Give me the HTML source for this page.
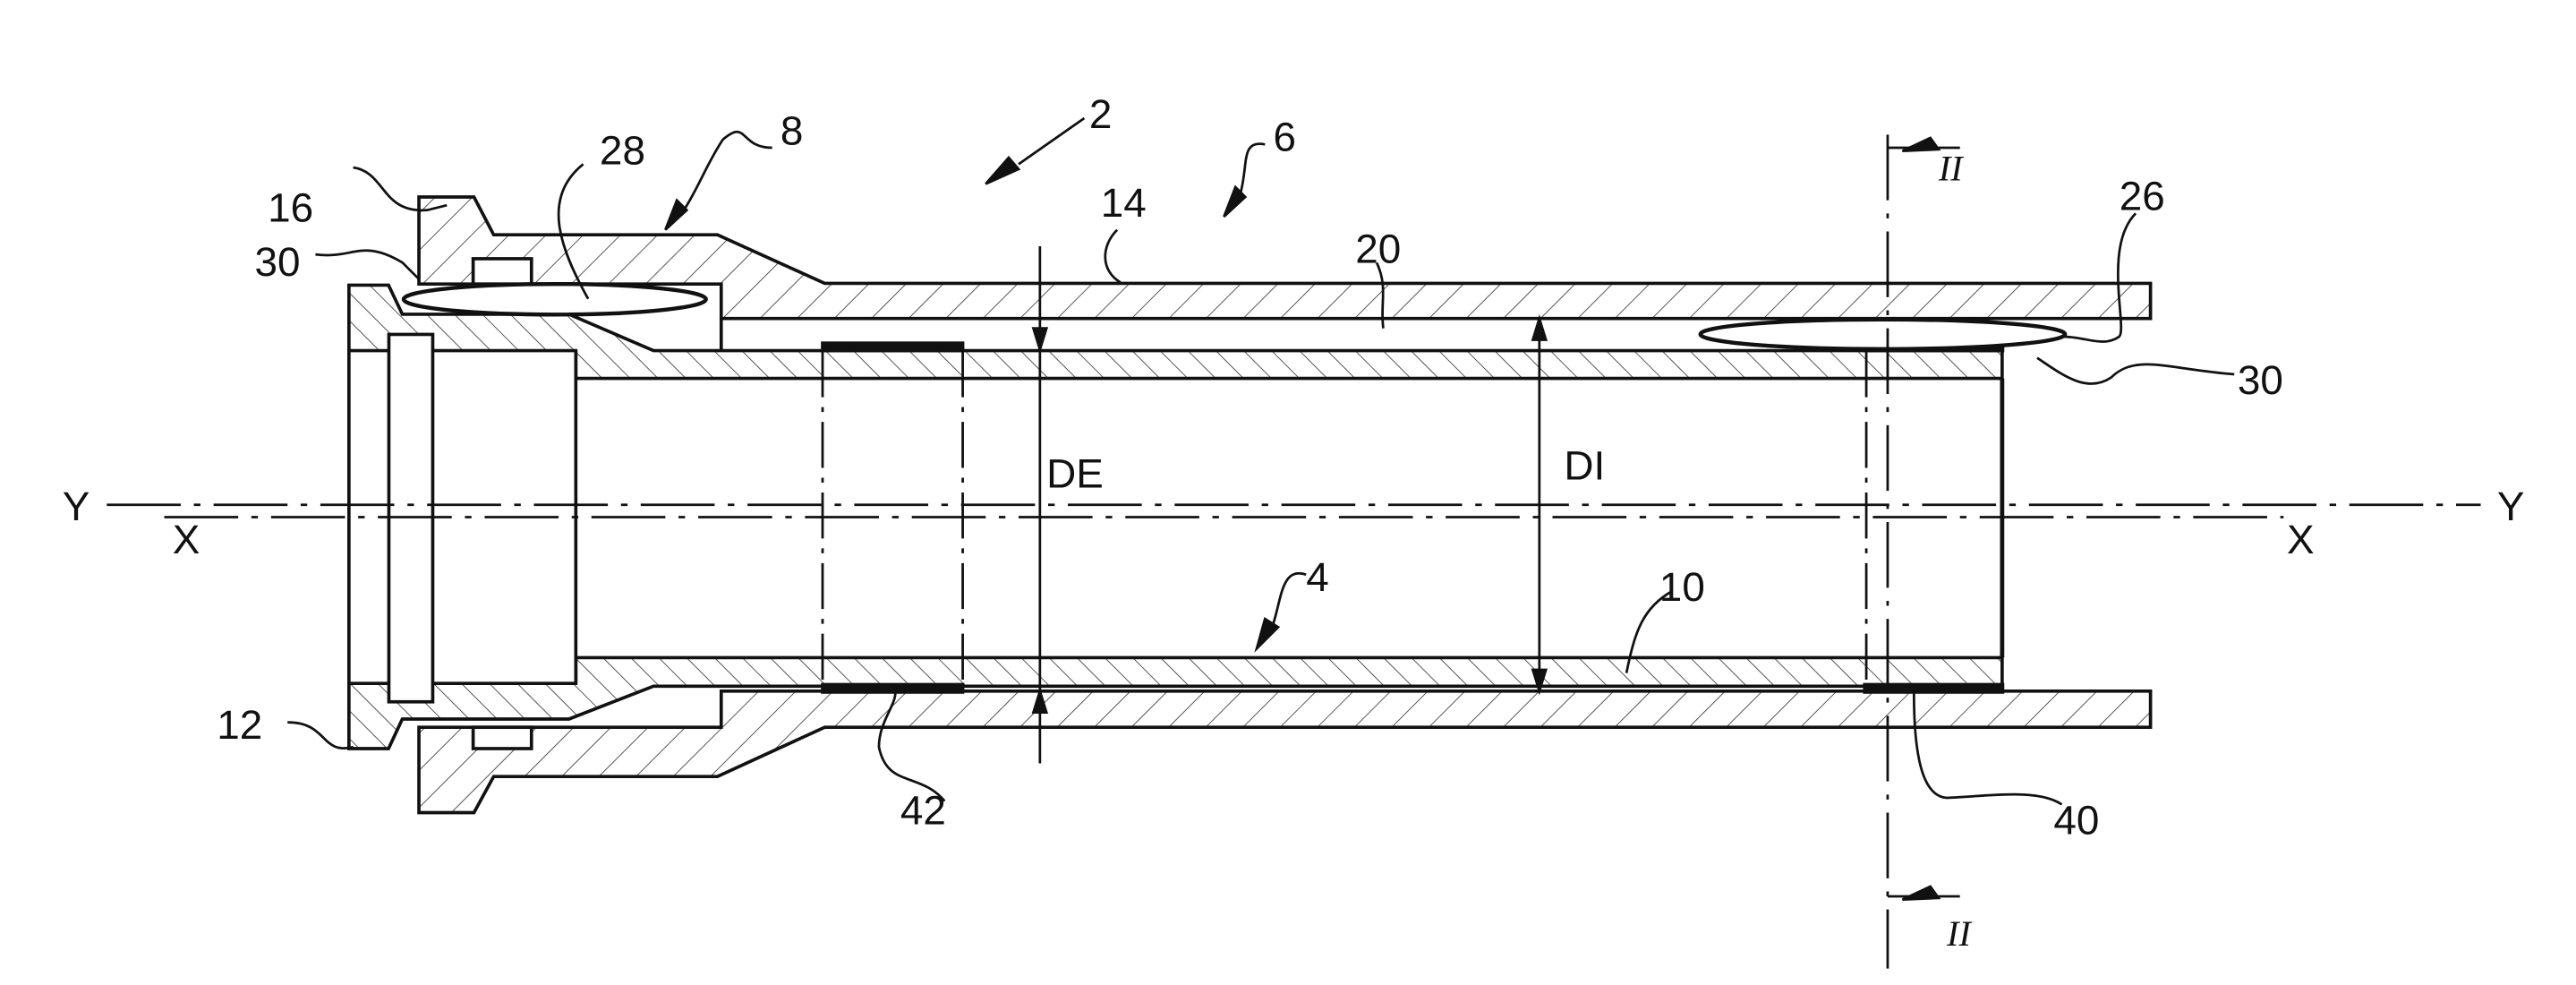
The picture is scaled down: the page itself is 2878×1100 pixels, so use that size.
<!DOCTYPE html>
<html><head><meta charset="utf-8"><style>
html,body{margin:0;padding:0;background:#fff;}
svg{display:block;}
text{font-family:"Liberation Sans",sans-serif;font-size:25px;fill:#111;}
</style></head><body>
<svg width="2878" height="1100" viewBox="0 0 1568 600" preserveAspectRatio="none" xmlns="http://www.w3.org/2000/svg">
<defs>
<pattern id="h1" patternUnits="userSpaceOnUse" width="16" height="16" patternTransform="rotate(45)">
<line x1="0" y1="0" x2="0" y2="16" stroke="#333" stroke-width="0.9"/></pattern>
<pattern id="h2" patternUnits="userSpaceOnUse" width="12" height="12" patternTransform="rotate(-45)">
<line x1="0" y1="0" x2="0" y2="12" stroke="#333" stroke-width="0.9"/></pattern>
</defs>
<g stroke="#111" stroke-width="2" fill="none" stroke-linejoin="miter">
<!-- housing -->
<polygon fill="url(#h1)" points="255,173 255,120 288.5,120 300.5,143 436.7,143 502,172.6 1309,172.6 1309,194 439,194 439,173"/>
<polygon fill="url(#h1)" points="255,443 255,495 288.5,495 300.5,473 436.7,473 502,443 1309,443 1309,421 439,421 439,443"/>
<rect x="288" y="157.6" width="35.5" height="15.4" fill="#fff"/>
<rect x="288" y="443" width="35.5" height="13" fill="#fff"/>
<line x1="439" y1="194" x2="439" y2="213.6"/>
<!-- socket + inner tube -->
<polygon fill="url(#h2)" points="212.4,173.7 236.5,173.7 244.9,191.4 346.3,191.4 397.8,213.6 1218.7,213.6 1218.7,230.5 350.5,230.5 350.5,213.6 212.4,213.6"/>
<polygon fill="url(#h2)" points="212.4,456 236.5,456 244.9,438 346.3,438 397.8,418 1218.7,418 1218.7,400.6 350.5,400.6 350.5,416.3 212.4,416.3"/>
<line x1="212.4" y1="213.6" x2="212.4" y2="416.3"/>
<line x1="350.5" y1="213.6" x2="350.5" y2="416.3"/>
<line x1="1218.7" y1="230.5" x2="1218.7" y2="400.6" stroke-width="2.6"/>
<rect x="236.7" y="203.7" width="26.7" height="223.8" fill="#fff"/>
<!-- bands -->
<rect x="500.7" y="209" width="85.3" height="4.6" fill="#111"/>
<rect x="500.7" y="417" width="85.3" height="4.6" fill="#111"/>
<rect x="1135" y="209" width="84" height="4.6" fill="#111"/>
<rect x="1135" y="417" width="84" height="4.6" fill="#111"/>
<!-- ellipses -->
<ellipse cx="337.7" cy="182.3" rx="92" ry="9.3" fill="#fff" stroke-width="2.4"/>
<ellipse cx="1146" cy="203.6" rx="111" ry="9" fill="#fff" stroke-width="2.4"/>
</g>
<g stroke="#111" stroke-width="1.5" fill="none">
<!-- dashed verticals -->
<line x1="500.7" y1="214" x2="500.7" y2="417" stroke-dasharray="28,6,3,6"/>
<line x1="586" y1="214" x2="586" y2="417" stroke-dasharray="28,6,3,6"/>
<line x1="1136" y1="214" x2="1136" y2="417" stroke-dasharray="28,6,3,6"/>
<!-- centerlines -->
<line x1="65" y1="307.5" x2="1510" y2="307.5" stroke-dasharray="45,8,4,8"/>
<line x1="100" y1="315" x2="1390" y2="315" stroke-dasharray="45,8,4,8"/>
<!-- section line -->
<line x1="1149" y1="82" x2="1149" y2="590" stroke-dasharray="40,8,3,8"/>
<line x1="1149" y1="90" x2="1193" y2="90"/>
<polygon points="1175,84 1180,91 1158,92" fill="#111"/>
<line x1="1149" y1="546" x2="1193" y2="546"/>
<polygon points="1175,540 1180,547 1158,548" fill="#111"/>
<!-- DE / DI -->
<line x1="633" y1="150" x2="633" y2="465"/>
<polygon points="629,200 637,200 633,213" fill="#111"/>
<polygon points="629,434 637,434 633,421" fill="#111"/>
<line x1="937" y1="194" x2="937" y2="421"/>
<polygon points="933,207 941,207 937,194" fill="#111"/>
<polygon points="933,408 941,408 937,421" fill="#111"/>
<!-- leaders -->
<path d="M215,102 C235,105 232,130 260,128 L272,125"/>
<path d="M192,155 C215,158 220,145 245,160 L255,170"/>
<path d="M355,100 C330,120 340,150 358,182"/>
<path d="M470,90 C450,90 455,72 440,85 C430,100 425,115 415,130"/>
<polygon points="405,140 412,122 418,128" fill="#111"/>
<path d="M660,72 L620,100"/>
<polygon points="600,112 614,96 620,103" fill="#111"/>
<path d="M770,88 C755,85 760,100 755,118"/>
<polygon points="745,132 752,114 758,120" fill="#111"/>
<path d="M680,140 C670,150 670,165 682,172"/>
<path d="M838,160 C845,175 840,185 842,200"/>
<path d="M1300,130 C1280,150 1295,200 1290,205 C1280,212 1270,205 1255,205"/>
<path d="M1360,228 C1320,225 1300,215 1285,230 C1270,240 1255,228 1240,218"/>
<path d="M175,440 C200,440 195,460 215,455"/>
<path d="M795,350 C780,345 780,365 775,380"/>
<polygon points="765,395 770,377 778,382" fill="#111"/>
<path d="M1018,360 C1000,370 995,385 990,410"/>
<path d="M575,488 C560,470 540,480 535,455 C535,440 545,430 545,422"/>
<path d="M1255,490 C1240,480 1210,485 1185,486 C1170,485 1165,460 1165,422"/>
</g>
<text x="163" y="135">16</text>
<text x="365" y="100">28</text>
<text x="475" y="88">8</text>
<text x="663" y="78">2</text>
<text x="775" y="92">6</text>
<text x="670" y="132">14</text>
<text x="825" y="160">20</text>
<text x="1290" y="128">26</text>
<text x="155" y="168">30</text>
<text x="1362" y="240">30</text>
<text x="637" y="297">DE</text>
<text x="952" y="292">DI</text>
<text x="132" y="450">12</text>
<text x="795" y="360">4</text>
<text x="1010" y="366">10</text>
<text x="548" y="502">42</text>
<text x="1250" y="508">40</text>
<text x="38" y="317">Y</text>
<text x="1520" y="317">Y</text>
<text x="105" y="337">X</text>
<text x="1392" y="337">X</text>
<text x="1180" y="110" style="font-family:'Liberation Serif',serif;font-style:italic;font-size:22px">II</text>
<text x="1185" y="576" style="font-family:'Liberation Serif',serif;font-style:italic;font-size:22px">II</text>
</svg>
</body></html>
